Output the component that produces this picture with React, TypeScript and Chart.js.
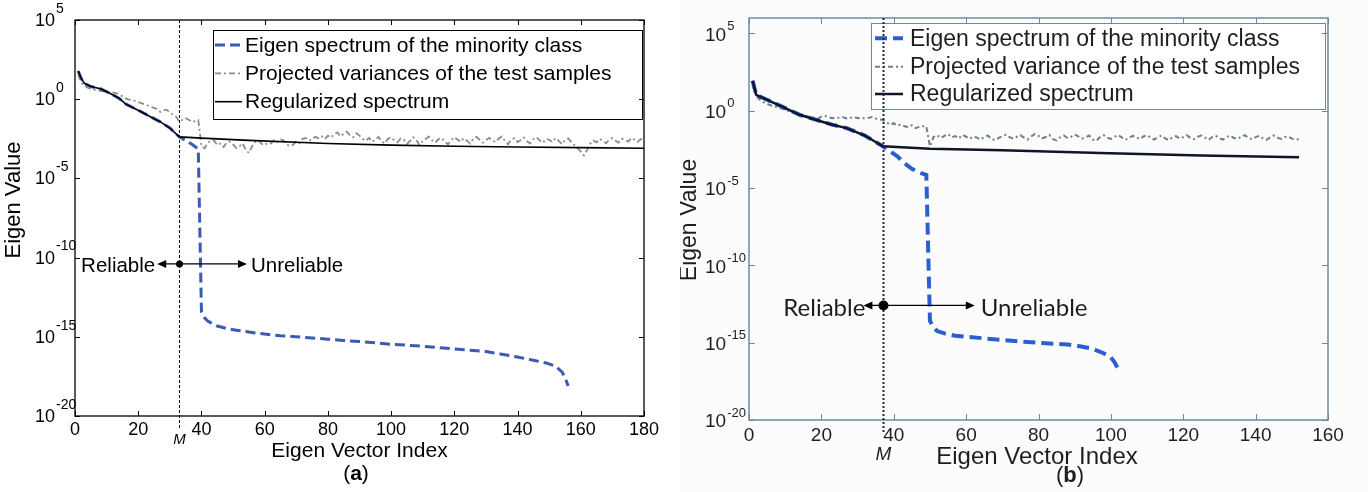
import React, { useEffect, useRef } from "react";
import { Chart, registerables } from "chart.js";
Chart.register(...registerables);

// ---------------- Shared tick values ----------------
const yTickExps = [-20, -15, -10, -5, 0, 5];
const xTicksA = [0, 20, 40, 60, 80, 100, 120, 140, 160, 180];
const xTicksB = [0, 20, 40, 60, 80, 100, 120, 140, 160];

const legendLabelsA = [
  "Eigen spectrum of the minority class",
  "Projected variances of the test samples",
  "Regularized spectrum",
];
const legendLabelsB = [
  "Eigen spectrum of the minority class",
  "Projected variance of the test samples",
  "Regularized spectrum",
];

// ---------------- Panel (a) data (values stored as log10 exponents) ----------------
const aM = 33;
const aBlackX = [1, 2, 3, 5, 8, 11, 14, 16, 19, 21, 24, 27, 30, 33, 40, 55, 80, 100, 120, 140, 160, 180];
const aBlackExp = [1.78, 1.3, 1.0, 0.8, 0.66, 0.38, 0.05, -0.3, -0.6, -0.8, -1.12, -1.43, -1.82, -2.38, -2.46, -2.6, -2.8, -2.9, -2.97, -3.02, -3.06, -3.1];

const aBlueX = [1, 2, 3, 5, 8, 11, 14, 16, 19, 21, 24, 27, 30, 33, 35, 37, 39, 40, 41, 42, 43, 45, 48, 51, 55, 60, 65, 70, 75, 80, 85, 90, 95, 100, 105, 110, 115, 120, 125, 130, 135, 140, 145, 149, 152, 154, 155, 156];
const aBlueExp = [1.78, 1.3, 1.0, 0.8, 0.66, 0.38, 0.05, -0.3, -0.6, -0.8, -1.12, -1.43, -1.82, -2.38, -2.6, -2.85, -3.15, -13.4, -13.8, -14.0, -14.12, -14.32, -14.48, -14.58, -14.7, -14.83, -14.93, -15.0, -15.07, -15.15, -15.23, -15.3, -15.38, -15.47, -15.53, -15.6, -15.68, -15.77, -15.85, -15.93, -16.1, -16.28, -16.48, -16.65, -16.85, -17.2, -17.55, -18.1];

// index 1..180
const aGrayExp = [
  1.55, 1.05, 0.85, 0.72, 0.64, 0.6, 0.56, 0.53, 0.5, 0.47,
  0.44, 0.42, 0.38, 0.3, 0.18, 0.05, -0.02, -0.06, -0.1, -0.18,
  -0.25, -0.33, -0.4, -0.48, -0.55, -0.62, -0.8, -0.7, -0.66, -0.85,
  -0.98, -1.1, -1.42, -1.3, -1.2, -1.3, -1.44, -1.38, -1.32, -2.95,
  -3.1, -2.75, -2.62, -2.6, -2.9, -2.8, -3.02, -2.72, -2.68, -2.86,
  -3.08, -2.98, -2.78, -3.18, -3.4, -2.98, -2.7, -2.58, -2.82, -2.9,
  -2.74, -2.8, -2.58, -2.7, -2.52, -2.6, -2.86, -2.96, -2.88, -2.66,
  -2.78, -2.5, -2.45, -2.62, -2.55, -2.38, -2.46, -2.34, -2.52, -2.3,
  -2.42, -2.2, -2.1, -2.35, -2.18, -2.05, -2.28, -2.4, -2.15, -2.3,
  -2.5, -2.62, -2.44, -2.7, -2.56, -2.38, -2.66, -2.8, -2.5, -2.42,
  -2.6, -2.72, -2.48, -2.55, -2.82, -2.64, -2.4, -2.58, -2.9, -2.62,
  -2.5, -2.36, -2.6, -2.75, -2.52, -2.45, -2.68, -2.86, -2.58, -2.4,
  -2.55, -2.7, -2.46, -2.62, -2.8, -2.5, -2.38, -2.56, -2.74, -2.6,
  -2.44, -2.58, -2.72, -2.5, -2.36, -2.62, -2.84, -2.55, -2.46, -2.7,
  -2.58, -2.42, -2.66, -2.8, -2.52, -2.4, -2.6, -2.76, -2.5, -2.56,
  -2.7, -2.45, -2.62, -2.84, -2.58, -2.48, -2.7, -2.9, -3.1, -3.3,
  -3.55, -3.2, -2.8, -2.6, -2.72, -2.5, -2.64, -2.78, -2.55, -2.46,
  -2.62, -2.74, -2.5, -2.58, -2.68, -2.45, -2.56, -2.7, -2.52, -2.6,
];

// ---------------- Panel (b) data ----------------
const bM = 37;
const bBlackX = [1, 2, 5, 9, 14, 20, 23, 27, 32, 37, 50, 70, 97, 125, 152];
const bBlackExp = [1.94, 1.03, 0.71, 0.28, -0.26, -0.69, -0.9, -1.12, -1.6, -2.3, -2.46, -2.55, -2.73, -2.9, -3.0];

const bBlueX = [1, 2, 5, 9, 14, 20, 23, 27, 32, 37, 39, 41, 43, 45, 47, 49, 50, 51, 52, 54, 57, 60, 65, 70, 75, 80, 85, 88, 91, 94, 96, 98, 100, 101, 102];
const bBlueExp = [1.94, 1.03, 0.71, 0.28, -0.26, -0.69, -0.9, -1.12, -1.6, -2.3, -2.62, -2.95, -3.4, -3.75, -3.98, -4.15, -13.6, -14.0, -14.25, -14.4, -14.55, -14.62, -14.72, -14.82, -14.92, -15.0, -15.08, -15.12, -15.22, -15.35, -15.5, -15.68, -15.95, -16.25, -16.7];

// index 1..152
const bGrayExp = [
  1.7, 0.95, 0.72, 0.55, 0.45, 0.36, 0.28, 0.2, 0.14, 0.06,
  -0.02, -0.1, -0.16, -0.24, -0.3, -0.36, -0.4, -0.45, -0.5, -0.38,
  -0.34, -0.42, -0.48, -0.44, -0.46, -0.42, -0.5, -0.46, -0.4, -0.48,
  -0.44, -0.5, -0.46, -0.4, -0.5, -0.56, -0.6, -0.76, -0.9, -0.8,
  -0.96, -0.9, -1.0, -1.06, -0.94, -1.12, -1.04, -1.0, -1.0, -2.3,
  -1.7, -1.58, -1.76, -1.62, -1.5, -1.72, -1.64, -1.78, -1.56, -1.68,
  -1.8, -1.66, -1.74, -1.86, -1.7, -1.6, -1.82, -1.9, -1.76, -1.64,
  -1.55, -1.7, -1.8, -1.68, -1.58, -1.74, -1.86, -1.66, -1.5, -1.62,
  -1.78, -1.7, -1.56, -1.84, -1.92, -1.72, -1.6, -1.76, -1.68, -1.54,
  -1.66, -1.8, -1.72, -1.6, -1.86, -1.94, -1.7, -1.58, -1.74, -1.82,
  -1.68, -1.56, -1.72, -1.88, -1.76, -1.62, -1.7, -1.84, -1.66, -1.58,
  -1.74, -1.86, -1.7, -1.6, -1.78, -1.9, -1.72, -1.64, -1.8, -1.7,
  -1.58, -1.76, -1.84, -1.68, -1.6, -1.74, -1.88, -1.7, -1.62, -1.78,
  -1.86, -1.7, -1.6, -1.76, -1.82, -1.68, -1.58, -1.74, -1.84, -1.7,
  -1.62, -1.78, -1.88, -1.72, -1.6, -1.74, -1.82, -1.7, -1.66, -1.8,
  -1.86, -1.84,
];

// ---------------- helpers ----------------
const pts = (xs: number[], exps: number[]) => xs.map((x, i) => ({ x, y: Math.pow(10, exps[i]) }));
const seq = (exps: number[]) => exps.map((e, i) => ({ x: i + 1, y: Math.pow(10, e) }));

const SANS = "'Liberation Sans', Arial, Helvetica, sans-serif";

function arrowHead(ctx: CanvasRenderingContext2D, x: number, y: number, dir: number, len: number, half: number) {
  ctx.beginPath();
  ctx.moveTo(x, y);
  ctx.lineTo(x - dir * len, y - half);
  ctx.lineTo(x - dir * len, y + half);
  ctx.closePath();
  ctx.fill();
}

const decor = {
  id: "decor",
  beforeDraw(chart: any, _a: any, o: any) {
    if (o.bg) {
      const c = chart.ctx;
      c.save();
      c.fillStyle = o.bg;
      c.fillRect(0, 0, chart.width, chart.height);
      c.restore();
    }
  },
  afterDatasetsDraw(chart: any, _a: any, o: any) {
    const ctx: CanvasRenderingContext2D = chart.ctx;
    const ca = chart.chartArea;
    const xs = chart.scales.x;
    const ys = chart.scales.y;
    ctx.save();

    // legend
    const lg = o.legend;
    ctx.setLineDash([]);
    ctx.fillStyle = "#ffffff";
    ctx.fillRect(lg.x0, lg.y0, lg.x1 - lg.x0, lg.y1 - lg.y0);
    ctx.strokeStyle = o.axisColor;
    ctx.lineWidth = 1;
    ctx.strokeRect(lg.x0 + 0.5, lg.y0 + 0.5, lg.x1 - lg.x0, lg.y1 - lg.y0);
    const dsets = chart.data.datasets;
    const legendOrder = [1, 2, 0];
    legendOrder.forEach((di: number, row: number) => {
      const ds = dsets[di];
      const yy = lg.rows[row];
      ctx.strokeStyle = ds.borderColor;
      ctx.lineWidth = ds.borderWidth;
      ctx.setLineDash(ds.borderDash || []);
      ctx.beginPath();
      ctx.moveTo(lg.sx0, yy);
      ctx.lineTo(lg.sx1, yy);
      ctx.stroke();
      ctx.setLineDash([]);
      ctx.fillStyle = o.textColor;
      ctx.font = lg.font;
      ctx.textAlign = "left";
      ctx.textBaseline = "middle";
      ctx.fillText(o.legendLabels[row], lg.tx, yy + 1);
    });

    // box
    ctx.setLineDash([]);
    ctx.strokeStyle = o.axisColor;
    ctx.lineWidth = o.axisWidth;
    ctx.strokeRect(ca.left, ca.top, ca.right - ca.left, ca.bottom - ca.top);

    // inward ticks
    ctx.lineWidth = 1;
    for (const t of o.xTicks) {
      const px = Math.round(xs.getPixelForValue(t)) + 0.5;
      ctx.beginPath();
      ctx.moveTo(px, ca.bottom);
      ctx.lineTo(px, ca.bottom - o.tickLen);
      ctx.moveTo(px, ca.top);
      ctx.lineTo(px, ca.top + o.tickLen);
      ctx.stroke();
    }
    for (const e of yTickExps) {
      const py = Math.round(ys.getPixelForValue(Math.pow(10, e))) + 0.5;
      ctx.beginPath();
      ctx.moveTo(ca.left, py);
      ctx.lineTo(ca.left + o.tickLen, py);
      ctx.moveTo(ca.right, py);
      ctx.lineTo(ca.right - o.tickLen, py);
      ctx.stroke();
    }

    // y tick labels 10^e
    ctx.fillStyle = o.textColor;
    ctx.textAlign = "left";
    ctx.textBaseline = "middle";
    for (const e of yTickExps) {
      const py = ys.getPixelForValue(Math.pow(10, e));
      ctx.font = o.yTickFont;
      ctx.fillText("10", o.yLabelX, py + o.yBaseDy);
      const w = ctx.measureText("10").width;
      ctx.font = o.yExpFont;
      ctx.fillText(e < 0 ? "-" + Math.abs(e) : String(e), o.yLabelX + w + 1, py + o.yExpDy);
    }

    // M line
    const mx = Math.round(xs.getPixelForValue(o.m)) + 0.5;
    ctx.strokeStyle = o.mColor;
    ctx.lineWidth = o.mWidth;
    ctx.setLineDash(o.mDash);
    ctx.beginPath();
    ctx.moveTo(mx, ca.top);
    ctx.lineTo(mx, ca.bottom + o.mExtend);
    ctx.stroke();
    ctx.setLineDash([]);
    ctx.fillStyle = o.textColor;
    ctx.font = o.mFont;
    ctx.textAlign = "center";
    ctx.textBaseline = "middle";
    ctx.fillText("M", mx, o.mLabelY);

    // reliable / unreliable arrows
    const ar = o.arrow;
    const ay = ys.getPixelForValue(Math.pow(10, ar.exp));
    const lx = xs.getPixelForValue(ar.left);
    const rx = xs.getPixelForValue(ar.right);
    ctx.strokeStyle = "#000";
    ctx.fillStyle = "#000";
    ctx.lineWidth = 1.3;
    ctx.beginPath();
    ctx.moveTo(lx + 4, ay);
    ctx.lineTo(rx - 4, ay);
    ctx.stroke();
    arrowHead(ctx, lx, ay, -1, 9, 4);
    arrowHead(ctx, rx, ay, 1, 9, 4);
    ctx.beginPath();
    ctx.arc(mx, ay, ar.dot, 0, Math.PI * 2);
    ctx.fill();
    ctx.fillStyle = o.textColor;
    ctx.font = ar.font;
    ctx.textBaseline = "middle";
    ctx.textAlign = "right";
    ctx.fillText("Reliable", lx - ar.gapL, ay + ar.dy);
    ctx.textAlign = "left";
    ctx.fillText("Unreliable", rx + ar.gapR, ay + ar.dy);

    // axis titles
    ctx.fillStyle = o.textColor;
    ctx.font = o.titleFont;
    ctx.textAlign = "center";
    ctx.textBaseline = "middle";
    ctx.fillText("Eigen Vector Index", o.xTitle[0], o.xTitle[1]);
    ctx.save();
    ctx.translate(o.yTitle[0], o.yTitle[1]);
    ctx.rotate(-Math.PI / 2);
    ctx.font = o.yTitleFont;
    ctx.fillText("Eigen Value", 0, 0);
    ctx.restore();

    // panel letter
    ctx.font = o.letterFont;
    const wp = ctx.measureText("(").width;
    const wp2 = ctx.measureText(")").width;
    ctx.font = "bold " + o.letterFont;
    const wl = ctx.measureText(o.letter).width;
    const total = wp + wl + wp2;
    let lx0 = o.letterPos[0] - total / 2;
    ctx.textAlign = "left";
    ctx.font = o.letterFont;
    ctx.fillText("(", lx0, o.letterPos[1]);
    ctx.font = "bold " + o.letterFont;
    ctx.fillText(o.letter, lx0 + wp, o.letterPos[1]);
    ctx.font = o.letterFont;
    ctx.fillText(")", lx0 + wp + wl, o.letterPos[1]);

    ctx.restore();
  },
};

function makeConfig(p: any) {
  return {
    type: "line",
    data: {
      datasets: [
        {
          label: p.labels[2],
          data: p.black,
          borderColor: p.blackColor,
          borderWidth: p.blackWidth,
          pointRadius: 0,
          tension: 0,
          fill: false,
        },
        {
          label: p.labels[0],
          data: p.blue,
          borderColor: p.blueColor,
          borderWidth: p.blueWidth,
          borderDash: p.blueDash,
          pointRadius: 0,
          tension: 0,
          fill: false,
        },
        {
          label: p.labels[1],
          data: p.gray,
          borderColor: p.grayColor,
          borderWidth: p.grayWidth,
          borderDash: p.grayDash,
          pointRadius: 0,
          tension: 0,
          fill: false,
        },
      ],
    },
    options: {
      responsive: false,
      animation: false,
      events: [],
      layout: { padding: p.padding },
      plugins: {
        legend: { display: false },
        tooltip: { enabled: false },
        decor: p.decor,
      },
      scales: {
        x: {
          type: "linear",
          min: 0,
          max: p.xMax,
          afterBuildTicks: (s: any) => {
            s.ticks = p.xTicks.map((v: number) => ({ value: v }));
          },
          afterFit: (s: any) => {
            s.height = p.xAxisH;
          },
          grid: { display: false, drawTicks: false },
          border: { display: false },
          ticks: {
            autoSkip: false,
            maxRotation: 0,
            padding: p.xTickPad,
            color: p.decor.textColor,
            font: { family: SANS, size: p.xTickSize },
          },
        },
        y: {
          type: "logarithmic",
          min: 1e-20,
          max: p.yMax,
          afterBuildTicks: (s: any) => {
            s.ticks = yTickExps.map((e) => ({ value: Math.pow(10, e) }));
          },
          afterFit: (s: any) => {
            s.width = p.yAxisW;
          },
          grid: { display: false, drawTicks: false },
          border: { display: false },
          ticks: { display: false },
        },
      },
    },
    plugins: [decor],
  };
}

const panelA = {
  labels: legendLabelsA,
  black: pts(aBlackX, aBlackExp),
  blue: pts(aBlueX, aBlueExp),
  gray: seq(aGrayExp),
  blackColor: "#000000",
  blackWidth: 1.6,
  blueColor: "#3a5bb5",
  blueWidth: 3,
  blueDash: [10, 5],
  grayColor: "#8c8c8c",
  grayWidth: 1.8,
  grayDash: [6, 3, 2, 3],
  padding: { left: 0, top: 20, right: 36, bottom: 0 },
  xMax: 180,
  xTicks: xTicksA,
  xAxisH: 76,
  xTickPad: 3,
  xTickSize: 18,
  yMax: 1e5,
  yAxisW: 75,
  decor: {
    textColor: "#000000",
    axisColor: "#000000",
    axisWidth: 1.3,
    tickLen: 5,
    xTicks: xTicksA,
    yLabelX: 35,
    yTickFont: "18px " + SANS,
    yExpFont: "14px " + SANS,
    yBaseDy: 1,
    yExpDy: -11,
    m: aM,
    mColor: "#000000",
    mWidth: 1,
    mDash: [3, 2],
    mExtend: 13,
    mFont: "italic 15px " + SANS,
    mLabelY: 440,
    arrow: { exp: -10.4, left: 26, right: 54.4, dot: 3.5, font: "20.5px " + SANS, gapL: 2, gapR: 4, dy: 2 },
    titleFont: "21px " + SANS,
    yTitleFont: "22px " + SANS,
    xTitle: [359.5, 451],
    yTitle: [14, 200],
    letter: "a",
    letterFont: "21px " + SANS,
    letterPos: [356, 474],
    legendLabels: legendLabelsA,
    legend: { x0: 213, y0: 30, x1: 642, y1: 119, sx0: 215, sx1: 242, tx: 245, rows: [45, 73.3, 101.7], font: "21px " + SANS },
  },
};

const panelB = {
  labels: legendLabelsB,
  black: pts(bBlackX, bBlackExp),
  blue: pts(bBlueX, bBlueExp),
  gray: seq(bGrayExp),
  blackColor: "#0e1628",
  blackWidth: 2.5,
  blueColor: "#2b5fcf",
  blueWidth: 4,
  blueDash: [12, 6],
  grayColor: "#6f8088",
  grayWidth: 2,
  grayDash: [5, 3, 2, 3],
  padding: { left: 0, top: 18, right: 40, bottom: 0 },
  xMax: 160,
  xTicks: xTicksB,
  xAxisH: 72,
  xTickPad: 4,
  xTickSize: 19,
  yMax: 1e6,
  yAxisW: 69,
  decor: {
    bg: "#fcfcfd",
    textColor: "#1e1e1e",
    axisColor: "#6e8a9a",
    axisWidth: 1.5,
    tickLen: 6,
    xTicks: xTicksB,
    yLabelX: 25,
    yTickFont: "19px " + SANS,
    yExpFont: "13px " + SANS,
    yBaseDy: 2,
    yExpDy: -7,
    m: bM,
    mColor: "#1c2b3a",
    mWidth: 2,
    mDash: [2, 2],
    mExtend: 14,
    mFont: "italic 19px " + SANS,
    mLabelY: 455,
    arrow: { exp: -12.59, left: 31.6, right: 62.4, dot: 5, font: "24px Lato, 'Open Sans', sans-serif", gapL: -2, gapR: 6, dy: 3 },
    titleFont: "24px " + SANS,
    yTitleFont: "23px " + SANS,
    xTitle: [357, 457],
    yTitle: [10, 220],
    letter: "b",
    letterFont: "22px " + SANS,
    letterPos: [390, 476],
    legendLabels: legendLabelsB,
    legend: { x0: 191, y0: 23, x1: 645, y1: 109, sx0: 195, sx1: 223, tx: 230, rows: [38.3, 66.7, 94], font: "23px " + SANS },
  },
};

function Panel({ cfg, left, width }: { cfg: any; left: number; width: number }) {
  const ref = useRef<HTMLCanvasElement | null>(null);
  useEffect(() => {
    if (!ref.current) return;
    const chart = new Chart(ref.current, makeConfig(cfg) as any);
    return () => chart.destroy();
  }, [cfg]);
  return (
    <canvas
      ref={ref}
      width={width}
      height={492}
      style={{ position: "absolute", left, top: 0, width, height: 492, display: "block" }}
    />
  );
}

export default function App() {
  return (
    <div style={{ position: "fixed", left: 0, top: 0, width: 1368, height: 492, background: "#ffffff", overflow: "hidden" }}>
      <Panel cfg={panelA} left={0} width={680} />
      <Panel cfg={panelB} left={680} width={688} />
    </div>
  );
}
